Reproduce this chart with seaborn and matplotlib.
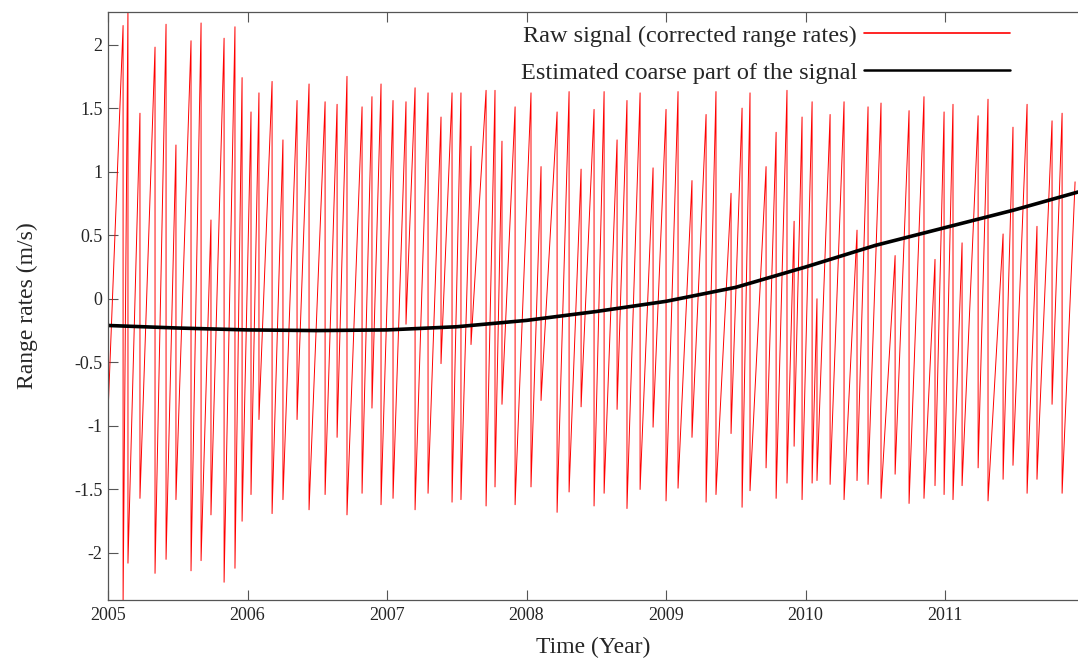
"""range-rate signal with its estimated coarse part"""

import numpy as np
import seaborn as sns
import matplotlib.pyplot as plt
from matplotlib.lines import Line2D

# start / end of the raw sawtooth signal (year, m/s)
start_t, start_v = 2005.0, -0.9
end_t, end_v = 2011.932, 0.92

# raw signal, one entry per drop: time of the drop, value just before, value just after
peak_t = [
    2005.108, 2005.143, 2005.229, 2005.337, 2005.416, 2005.487, 2005.595, 2005.667,
    2005.738, 2005.832, 2005.910, 2005.961, 2006.025, 2006.082, 2006.176, 2006.254,
    2006.355, 2006.441, 2006.556, 2006.642, 2006.713, 2006.821, 2006.892, 2006.957,
    2007.043, 2007.136, 2007.201, 2007.294, 2007.387, 2007.466, 2007.530, 2007.602,
    2007.710, 2007.774, 2007.824, 2007.918, 2008.032, 2008.104, 2008.219, 2008.305,
    2008.391, 2008.484, 2008.556, 2008.649, 2008.720, 2008.814, 2008.907, 2009.000,
    2009.086, 2009.186, 2009.287, 2009.358, 2009.466, 2009.545, 2009.602, 2009.717,
    2009.789, 2009.867, 2009.918, 2009.975, 2010.047, 2010.082, 2010.176, 2010.276,
    2010.369, 2010.448, 2010.541, 2010.642, 2010.742, 2010.849, 2010.928, 2010.993,
    2011.057, 2011.122, 2011.237, 2011.308, 2011.416, 2011.487, 2011.588, 2011.659,
    2011.767, 2011.839,
]
peak_v = [
    2.15, 2.30, 1.46, 1.98, 2.16, 1.21, 2.03, 2.17, 0.62, 2.05, 2.14, 1.74, 1.47, 1.62,
    1.71, 1.25, 1.56, 1.69, 1.55, 1.53, 1.75, 1.51, 1.59, 1.69, 1.56, 1.55, 1.66, 1.62,
    1.43, 1.62, 1.62, 1.20, 1.64, 1.64, 1.24, 1.51, 1.62, 1.04, 1.47, 1.63, 1.02, 1.49,
    1.63, 1.25, 1.56, 1.62, 1.03, 1.49, 1.63, 0.93, 1.45, 1.63, 0.83, 1.50, 1.62, 1.04,
    1.31, 1.64, 0.61, 1.43, 1.55, 0.00, 1.45, 1.55, 0.54, 1.51, 1.54, 0.34, 1.48, 1.59,
    0.31, 1.47, 1.53, 0.44, 1.44, 1.57, 0.51, 1.35, 1.53, 0.57, 1.40, 1.46,
]
trough_v = [
    -2.40, -2.08, -1.57, -2.16, -2.05, -1.58, -2.14, -2.06, -1.70, -2.23, -2.12, -1.75,
    -1.54, -0.95, -1.69, -1.58, -0.95, -1.66, -1.54, -1.09, -1.70, -1.53, -0.86, -1.62,
    -1.57, -0.20, -1.66, -1.53, -0.51, -1.60, -1.58, -0.36, -1.63, -1.48, -0.83, -1.62,
    -1.48, -0.80, -1.68, -1.52, -0.85, -1.63, -1.53, -0.87, -1.65, -1.50, -1.01, -1.59,
    -1.49, -1.09, -1.60, -1.54, -1.06, -1.64, -1.51, -1.33, -1.57, -1.45, -1.16, -1.58,
    -1.45, -1.43, -1.46, -1.58, -1.43, -1.46, -1.57, -1.38, -1.61, -1.57, -1.47, -1.54,
    -1.58, -1.47, -1.33, -1.59, -1.42, -1.31, -1.53, -1.42, -0.83, -1.53,
]

# estimated coarse part of the signal
coarse_t = [2005.0, 2005.5, 2006.0, 2006.5, 2007.0, 2007.5, 2008.0, 2008.5,
            2009.0, 2009.5, 2010.0, 2010.5, 2011.0, 2011.5, 2011.953]
coarse_v = [-0.21, -0.23, -0.245, -0.25, -0.245, -0.22, -0.17, -0.10,
            -0.02, 0.09, 0.25, 0.42, 0.56, 0.70, 0.84]

# build the sawtooth path: rise to each peak, then drop straight down
raw_t = [start_t]
raw_v = [start_v]
for t, p, q in zip(peak_t, peak_v, trough_v):
    raw_t += [t, t]
    raw_v += [p, q]
raw_t.append(end_t)
raw_v.append(end_v)

sns.set_style("ticks")
plt.rcParams["font.family"] = ["Liberation Serif", "DejaVu Serif"]
plt.rcParams["xtick.direction"] = "in"
plt.rcParams["ytick.direction"] = "in"

fig = plt.figure(figsize=(10.78, 6.59), dpi=100)
ax = fig.add_axes([0.1002, 0.0895, 0.8998, 0.893])

sns.lineplot(x=np.array(raw_t), y=np.array(raw_v), ax=ax, color="#ff0000",
             linewidth=0.7, estimator=None, sort=False)
sns.lineplot(x=coarse_t, y=coarse_v, ax=ax, color="black", linewidth=2.6,
             estimator=None, sort=False)

ax.set_xlim(2005, 2011.953)
ax.set_ylim(-2.37, 2.26)
ax.set_xticks([2005, 2006, 2007, 2008, 2009, 2010, 2011])
ax.set_yticks([-2, -1.5, -1, -0.5, 0, 0.5, 1, 1.5, 2])
ax.set_yticklabels(["%g" % v for v in ax.get_yticks()])
ax.tick_params(axis="x", top=True, length=7, width=0.8, color="#555555",
               labelsize=13, pad=5)
ax.tick_params(axis="y", length=7, width=0.8, color="#555555", labelsize=13, pad=4)

for side in ["top", "bottom", "left"]:
    ax.spines[side].set_color("#555555")
    ax.spines[side].set_linewidth(0.9)
ax.spines["right"].set_visible(False)

ax.set_xlabel("Time (Year)", fontsize=17, labelpad=9)
ax.set_ylabel("Range rates (m/s)", fontsize=17, labelpad=26)

handles = [Line2D([], [], color="#ff0000", linewidth=1.2),
           Line2D([], [], color="black", linewidth=1.8)]
labels = ["Raw signal (corrected range rates)", "Estimated coarse part of the signal"]
ax.legend(handles, labels, loc="upper right", bbox_to_anchor=(0.94, 0.994),
          frameon=False, markerfirst=False, fontsize=17.5, handlelength=6.0,
          handletextpad=0.3, labelspacing=0.62, borderaxespad=0.0)

plt.savefig("out.png", dpi=100)
plt.close()
